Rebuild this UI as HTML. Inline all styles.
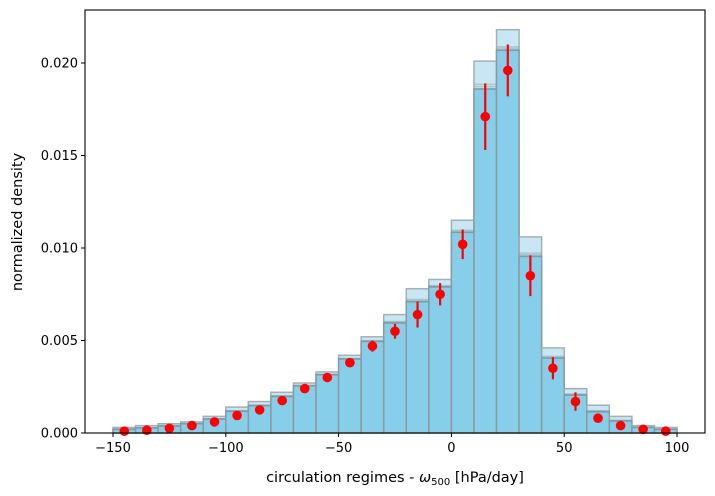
<!DOCTYPE html><html><head><style>body{margin:0;background:#fff}svg{display:block;font-family:"DejaVu Sans","Liberation Sans",sans-serif}</style></head><body>
<svg id="s" width="715" height="496" viewBox="0 0 715 496"></svg>
<script>
var L=85,R=705,T=10,B=433;
function X(v){return 451.4+v*2.256}
function Y(v){return B-v*18500}
var dots=[.0001,.00015,.00025,.0004,.0006,.00095,.00125,.00175,.0024,.003,.0038,.0047,.0055,.0064,.0075,.0102,.0171,.0196,.0085,.0035,.0017,.0008,.0004,.0002,.0001];
var mx=[.0003,.0004,.0005,.0006,.0009,.0014,.0017,.0022,.0027,.0033,.0042,.0052,.0064,.0078,.0083,.0115,.0201,.0218,.0106,.0046,.0024,.0015,.0009,.0004,.0003];
var err=[0,0,0,0,0,0,0,0,0,0,.0001,.0003,.0004,.0007,.0006,.0008,.0018,.0014,.0011,.0006,.0005,.0001,0,0,0];
var h='';
for(var i=0;i<25;i++){var a=-150+i*10,x0=X(a),w=X(a+10)-x0,d=dots[i],m=mx[i];
var solid=Math.min(m,d+(m-d)*0.5);
h+='<rect x="'+x0+'" y="'+Y(m)+'" width="'+w+'" height="'+(B-Y(m))+'" fill="#c3e4f2" stroke="#9aa" stroke-width="1.5" opacity="0.9"/>';
h+='<rect x="'+x0+'" y="'+Y(solid)+'" width="'+w+'" height="'+(B-Y(solid))+'" fill="#87ceeb" stroke="#8a9aa0" stroke-width="1.5"/>';
[0.97,0.9,0.82].forEach(function(f){var yy=Y(d+(m-d)*f*0.6);h+='<line x1="'+x0+'" x2="'+(x0+w)+'" y1="'+yy+'" y2="'+yy+'" stroke="#7a9aa8" stroke-opacity="0.4" stroke-width="1.5"/>'});
}
for(var i=0;i<25;i++){var c=X(-145+i*10),d=dots[i],e=err[i];
if(e>0)h+='<line x1="'+c+'" x2="'+c+'" y1="'+Y(d-e)+'" y2="'+Y(d+e)+'" stroke="red" stroke-width="2.2"/>';
h+='<circle cx="'+c+'" cy="'+Y(d)+'" r="4.8" fill="red"/>';}
h+='<rect x="'+L+'" y="'+T+'" width="'+(R-L)+'" height="'+(B-T)+'" fill="none" stroke="#000" stroke-width="1.1"/>';
[-150,-100,-50,0,50,100].forEach(function(v){var x=X(v);h+='<line x1="'+x+'" x2="'+x+'" y1="'+B+'" y2="'+(B+4)+'" stroke="#000"/><text x="'+x+'" y="'+(B+19)+'" font-size="13" text-anchor="middle">'+(v<0?'\u2212'+(-v):v)+'</text>'});
[0,.005,.01,.015,.02].forEach(function(v){var y=Y(v);h+='<line x1="'+L+'" x2="'+(L-4)+'" y1="'+y+'" y2="'+y+'" stroke="#000"/><text x="'+(L-7)+'" y="'+(y+4.5)+'" font-size="13" text-anchor="end">'+v.toFixed(3)+'</text>'});
h+='<text x="395" y="482" font-size="14.5" text-anchor="middle">circulation regimes - <tspan font-style="italic">ω</tspan><tspan font-size="10" dy="3">500</tspan><tspan dy="-3"> [hPa/day]</tspan></text>';
h+='<text transform="translate(22,222) rotate(-90)" font-size="14.5" text-anchor="middle">normalized density</text>';
document.getElementById('s').innerHTML=h;
</script></body></html>
